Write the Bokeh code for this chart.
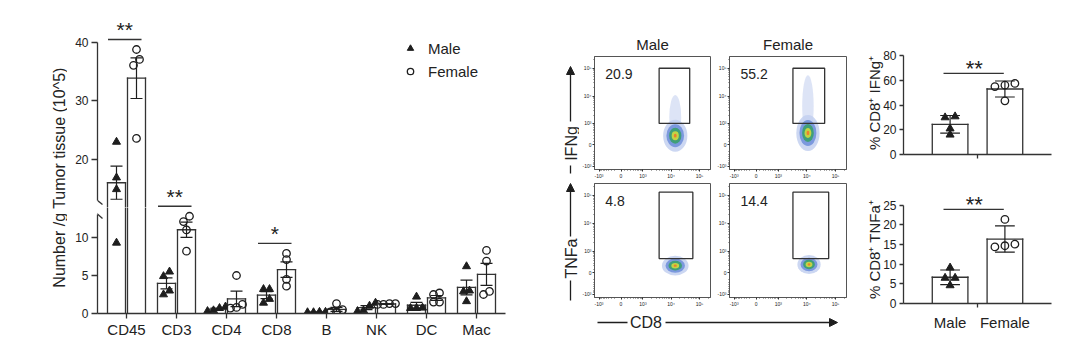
import numpy as np
from bokeh.plotting import figure
from bokeh.models import Range1d, FixedTicker, Legend, LegendItem, Arrow, NormalHead
from bokeh.layouts import row, column
from bokeh.embed import file_html
from bokeh.resources import INLINE
from bokeh.core.properties import value

FONT = "Liberation Sans"
INK = "#1e1e1e"
AX = "#333333"

# ---------------- data: immune cells per g tumour (x10^5) ----------------
cell_types = ["CD45", "CD3", "CD4", "CD8", "B", "NK", "DC", "Mac"]
male_counts = [
    [23.0, 16.9, 14.9, 9.3],
    [4.9, 5.5, 2.5, 3.0],
    [0.3, 0.9, 0.7, 0.4],
    [3.2, 3.2, 1.4, 1.9],
    [0.15, 0.2, 0.2, 0.15],
    [0.4, 1.0, 1.4, 0.3],
    [2.2, 0.7, 0.75, 0.7],
    [6.2, 3.0, 2.9, 1.6],
]
female_counts = [
    [38.8, 37.1, 36.1, 23.6],
    [12.1, 12.8, 11.0, 8.2],
    [5.0, 0.8, 0.7, 1.2],
    [7.9, 7.1, 4.5, 3.6],
    [0.2, 1.3, 0.2, 0.5],
    [1.2, 1.3, 1.3, 1.2],
    [2.5, 2.7, 1.5, 1.5],
    [8.3, 6.9, 2.5, 2.9],
]
count_sig = {"CD45": "**", "CD3": "**", "CD8": "*"}
count_ylabel = "Number /g Tumor tissue (10^5)"

# ---------------- data: % of CD8+ cells ----------------
sexes = ["Male", "Female"]
ifng_male = [30.0, 30.8, 21.0, 16.0]
ifng_female = [57.6, 56.2, 55.1, 43.5]
tnfa_male = [6.5, 6.5, 9.1, 4.6]
tnfa_female = [21.4, 14.4, 15.1, 14.7]

# ---------------- data: flow plots ----------------
ifng_gate_pct = [20.9, 55.2]
tnfa_gate_pct = [4.8, 14.4]
ifng_gate_cd8 = [[3.8e3, 4.5e4], [3.3e3, 4.2e4]]
ifng_gate_ifng = [1.0e3, 1.0e5]
tnfa_gate_cd8 = [[3.8e3, 5.8e4], [3.3e3, 5.8e4]]
tnfa_gate_tnfa = [5.0e2, 1.3e5]
ifng_cloud_cd8 = [1.4e4, 1.1e4]
ifng_cloud_ifng = [2.9e2, 4.0e2]
ifng_cloud_tail = [7.7e3, 4.0e4]
tnfa_cloud_cd8 = [1.4e4, 1.2e4]
tnfa_cloud_tnfa = [2.1e2, 2.5e2]
flow_tick_values = [-1e3, 0, 1e3, 1e4, 1e5]
flow_tick_labels = ["-10³", "0", "10³", "10⁴", "10⁵"]


# ---------------- helpers ----------------
def base_fig(w, h, xr, yr, bl, br, bt, bb, title=None):
    kw = dict(width=w, height=h, x_range=xr, y_range=yr, output_backend="svg",
              toolbar_location=None, min_border_left=bl, min_border_right=br,
              min_border_top=bt, min_border_bottom=bb)
    if title:
        kw["title"] = title
    p = figure(**kw)
    p.outline_line_color = None
    p.xgrid.visible = False
    p.ygrid.visible = False
    p.background_fill_color = "white"
    p.border_fill_color = "white"
    return p


def deco_fig(w, h, x0, x1, y_top, y_bot):
    p = base_fig(w, h, Range1d(x0, x1), Range1d(y_bot, y_top), 0, 0, 0, 0)
    p.xaxis.visible = False
    p.yaxis.visible = False
    return p


def style_axis(ax, size="12px", tick_out=5, standoff=3):
    ax.axis_line_color = AX
    ax.axis_line_width = 1.3
    ax.major_tick_line_color = AX
    ax.major_tick_line_width = 1.3
    ax.major_tick_in = 0
    ax.major_tick_out = tick_out
    ax.minor_tick_line_color = None
    ax.major_label_text_font = FONT
    ax.major_label_text_font_size = size
    ax.major_label_text_color = "#222222"
    ax.major_label_standoff = standoff
    ax.axis_label_text_font = FONT
    ax.axis_label_text_font_style = "normal"
    ax.axis_label_text_color = "#222222"


def swarm(vals, to_px, d_px, px_per_x, thr=6.0):
    vals = np.asarray(vals, dtype=float)
    order = np.argsort(vals)
    offs = np.zeros(len(vals))
    clusters, cur = [], [order[0]]
    for a, b in zip(order[:-1], order[1:]):
        if abs(to_px(vals[b]) - to_px(vals[a])) < thr:
            cur.append(b)
        else:
            clusters.append(cur)
            cur = [b]
    clusters.append(cur)
    for c in clusters:
        n = len(c)
        for k, i in enumerate(c):
            offs[i] = (k - (n - 1) / 2) * d_px / px_per_x
    return offs


def stext(p, x, y, t, size, **kw):
    p.text(x=x, y=y, text=t, text_font=value(FONT), text_font_size=size,
           text_color="#222222", **kw)


def draw_bars(p, xs, tops, width, show_top):
    xs = np.asarray(xs, dtype=float)
    tops = np.asarray(tops, dtype=float)
    show_top = np.asarray(show_top, dtype=bool)
    h = width / 2
    p.vbar(x=xs, top=tops, bottom=0, width=width, fill_color="white", line_color=None)
    seg = dict(line_color=AX, line_width=1.3, line_cap="square")
    p.segment(x0=xs - h, y0=np.zeros_like(tops), x1=xs - h, y1=tops, **seg)
    p.segment(x0=xs + h, y0=np.zeros_like(tops), x1=xs + h, y1=tops, **seg)
    p.segment(x0=xs[show_top] - h, y0=tops[show_top], x1=xs[show_top] + h,
              y1=tops[show_top], **seg)


# ================= left panel (broken axis: two stacked figures) =================
BREAK = 13.0
UP_START, UP_END = 11.79, 43.93
LO_END = 13.95
UP_PX, LO_PX = 5.85, 7.6
LX = Range1d(-0.58, 7.58)

up = base_fig(488, 200, LX, Range1d(UP_START, UP_END), 30, 50, 12, 0)
lo = base_fig(488, 133, LX, Range1d(0, LO_END), 30, 50, 0, 27)

up.xaxis.visible = False
style_axis(up.yaxis[0], "12px", 6, 3)
up.yaxis.ticker = FixedTicker(ticks=[20, 30, 40])
up.yaxis.bounds = (BREAK, 40)
style_axis(lo.yaxis[0], "12px", 6, 3)
lo.yaxis.ticker = FixedTicker(ticks=[0, 5, 10])
lo.yaxis.bounds = (0, BREAK)
style_axis(lo.xaxis[0], "15px", 5, 2)
idx = list(range(len(cell_types)))
lo.xaxis.ticker = FixedTicker(ticks=idx)
lo.xaxis.major_label_overrides = {i: c for i, c in enumerate(cell_types)}


def comb_px(v):
    return v * LO_PX if v <= BREAK else LO_END * LO_PX + (v - UP_START) * UP_PX


legend_r = {}
for sex, data, dx, marker in [("Male", male_counts, -0.2, "triangle"),
                              ("Female", female_counts, 0.2, "circle")]:
    means = np.array([np.mean(v) for v in data])
    sems = np.array([np.std(v, ddof=1) / np.sqrt(len(v)) for v in data])
    xs = np.array(idx, dtype=float) + dx
    tall = means > UP_START
    draw_bars(up, xs[tall], means[tall], 0.36, np.ones(int(tall.sum()), dtype=bool))
    draw_bars(lo, xs, means, 0.36, means < LO_END)
    pts = {up: ([], []), lo: ([], [])}
    for i, vals in enumerate(data):
        offs = swarm(vals, comb_px, 6.0, 50.0)
        for v, o in zip(vals, offs):
            tgt = up if v > BREAK else lo
            pts[tgt][0].append(xs[i] + o)
            pts[tgt][1].append(v)
    for p in (up, lo):
        if marker == "triangle":
            r = p.scatter(x=pts[p][0], y=pts[p][1], marker="triangle", size=8,
                          fill_color=INK, line_color=INK)
        else:
            r = p.scatter(x=pts[p][0], y=pts[p][1], marker="circle", size=7.5,
                          fill_color="white", fill_alpha=0, line_color=INK,
                          line_width=1.3)
        if p is up:
            legend_r[sex] = r
    for p, sel in ((up, means > BREAK), (lo, means <= BREAK)):
        x, m, s = xs[sel], means[sel], sems[sel]
        p.segment(x0=x, y0=m - s, x1=x, y1=m + s, line_color=INK, line_width=1.2)
        p.segment(x0=x - 0.12, y0=m + s, x1=x + 0.12, y1=m + s, line_color=INK, line_width=1.2)
        p.segment(x0=x - 0.12, y0=m - s, x1=x + 0.12, y1=m - s, line_color=INK, line_width=1.2)

for cat, stars in count_sig.items():
    i = cell_types.index(cat)
    top = max(max(male_counts[i]), max(female_counts[i]))
    h = comb_px(top) + 10
    if h <= LO_END * LO_PX:
        yv, p = h / LO_PX, lo
    else:
        yv, p = UP_START + (h - LO_END * LO_PX) / UP_PX, up
    p.segment(x0=[i - 0.37], y0=[yv], x1=[i + 0.3], y1=[yv], line_color=AX, line_width=1.3)
    stext(p, [i - 0.035], [yv], [stars], "21px", text_align="center",
          text_baseline="alphabetic", y_offset=-10)

# axis break marks
up.add_layout(Arrow(end=None, x_start=-0.68, y_start=BREAK + 0.68, x_end=-0.48,
                    y_end=BREAK - 0.69, line_color=AX, line_width=1.3))
lo.add_layout(Arrow(end=None, x_start=-0.68, y_start=BREAK + 0.68, x_end=-0.48,
                    y_end=BREAK - 0.5, line_color=AX, line_width=1.3))

leg = Legend(items=[LegendItem(label="Male", renderers=[legend_r["Male"]]),
                    LegendItem(label="Female", renderers=[legend_r["Female"]])],
             location=(305, 126), padding=0, margin=0, spacing=3,
             glyph_width=16, glyph_height=16, label_height=20, label_standoff=10,
             label_text_font=FONT, label_text_font_size="15px",
             label_text_color="#222222", border_line_color=None,
             background_fill_alpha=0)
up.add_layout(leg)

ylab = deco_fig(60, 333, 8, 68, 8, 341)
stext(ylab, [60], [178], [count_ylabel], "16px", angle=np.pi / 2,
      text_align="center", text_baseline="middle")

left = row(ylab, column(up, lo))

# ================= flow cytometry panels =================
FLOW_W = 350.0


def T(v):
    return np.arcsinh(np.asarray(v, dtype=float) / FLOW_W) / np.log(10)


FX = (-0.93, 3.14)
FY = (-0.89, 3.18)
minor_vals = ([-k * 100 for k in range(2, 10)] + [k * 100 for k in range(1, 10)]
              + [k * 1000 for k in range(2, 10)] + [k * 1e4 for k in range(2, 10)] + [2e5])
f_ticks = [round(float(t), 6) for t in T(flow_tick_values)]
f_minor = [round(float(t), 6) for t in T(minor_vals)]
f_over = {t: lab for t, lab in zip(f_ticks, flow_tick_labels)}

CLOUD_LAYERS = [
    (0.85, 1.00, "#c3d0f0", 0.85),
    (0.62, 0.72, "#5a7fd6", 0.7),
    (0.43, 0.50, "#35a067", 0.85),
    (0.25, 0.28, "#cfd93f", 0.9),
    (0.10, 0.12, "#ef7b2d", 0.95),
]


def flow_panel(bl, br, bt, bb, h, title, pct, gx, gy, cx, cy, tail, sx, sy):
    p = base_fig(bl + 118 + br, h, Range1d(*FX), Range1d(*FY), bl, br, bt, bb, title=title)
    p.outline_line_color = "#555555"
    p.outline_line_width = 1
    for ax in (p.xaxis[0], p.yaxis[0]):
        style_axis(ax, "5px", 2, 1)
        ax.axis_line_color = "#555555"
        ax.axis_line_width = 1
        ax.major_tick_line_width = 1
        ax.minor_tick_line_color = "#555555"
        ax.minor_tick_in = 0
        ax.minor_tick_out = 1
        ax.ticker = FixedTicker(ticks=f_ticks, minor_ticks=f_minor)
        ax.major_label_overrides = f_over
    if title:
        p.title.align = "center"
        p.title.text_font = FONT
        p.title.text_font_size = "15px"
        p.title.text_font_style = "normal"
        p.title.text_color = "#222222"
        p.title.standoff = 8
    X, Y = float(T(cx)), float(T(cy))
    if tail is not None:
        Yt = float(T(tail))
        p.ellipse(x=[X], y=[(Y + Yt) / 2], width=0.42 * sx, height=(Yt - Y) + 0.3,
                  fill_color="#9fb3e6", fill_alpha=0.35, line_color=None)
    for w, hh, c, a in CLOUD_LAYERS:
        p.ellipse(x=[X], y=[Y], width=w * sx, height=hh * sy, fill_color=c,
                  fill_alpha=a, line_color=None)
    p.quad(left=[float(T(gx[0]))], right=[float(T(gx[1]))], bottom=[float(T(gy[0]))],
           top=[float(T(gy[1]))], fill_color=None, line_color="#333333", line_width=1.3)
    stext(p, [FX[0] + 0.38], [FY[1] - 0.64], [f"{pct}"], "14px",
          text_align="left", text_baseline="middle")
    return p


f_mt = flow_panel(13, 4, 49, 11, 174, "Male", ifng_gate_pct[0], ifng_gate_cd8[0], ifng_gate_ifng,
                  ifng_cloud_cd8[0], ifng_cloud_ifng[0], ifng_cloud_tail[0], 1.0, 1.15)
f_ft = flow_panel(14, 5, 49, 11, 174, "Female", ifng_gate_pct[1], ifng_gate_cd8[1], ifng_gate_ifng,
                  ifng_cloud_cd8[1], ifng_cloud_ifng[1], ifng_cloud_tail[1], 0.95, 1.3)
f_mb = flow_panel(13, 4, 2, 14, 130, None, tnfa_gate_pct[0], tnfa_gate_cd8[0], tnfa_gate_tnfa,
                  tnfa_cloud_cd8[0], tnfa_cloud_tnfa[0], None, 1.1, 0.7)
f_fb = flow_panel(14, 5, 2, 14, 130, None, tnfa_gate_pct[1], tnfa_gate_cd8[1], tnfa_gate_tnfa,
                  tnfa_cloud_cd8[1], tnfa_cloud_tnfa[1], None, 0.95, 0.68)

vdeco = deco_fig(24, 304, 556, 580, 8, 312)
head = dict(size=8, fill_color=INK, line_color=INK)
vdeco.add_layout(Arrow(end=NormalHead(**head), x_start=571, y_start=122, x_end=571, y_end=67,
                       line_color=INK, line_width=1.3))
vdeco.segment(x0=[571], y0=[166], x1=[571], y1=[174], line_color=INK, line_width=1.3)
vdeco.add_layout(Arrow(end=NormalHead(**head), x_start=571, y_start=237, x_end=571, y_end=184,
                       line_color=INK, line_width=1.3))
vdeco.segment(x0=[571], y0=[281], x1=[571], y1=[301], line_color=INK, line_width=1.3)
stext(vdeco, [571.5, 571.5], [144, 259], ["IFNg", "TNFa"], "16px", angle=np.pi / 2,
      text_align="center", text_baseline="middle")

hdeco = deco_fig(296, 29, 556, 852, 312, 341)
hdeco.segment(x0=[598], y0=[323], x1=[628], y1=[323], line_color=INK, line_width=1.3)
hdeco.add_layout(Arrow(end=NormalHead(**head), x_start=666, y_start=323, x_end=838, y_end=323,
                       line_color=INK, line_width=1.3))
stext(hdeco, [646.5], [323], ["CD8"], "16px", text_align="center", text_baseline="middle")

flow = column(row(vdeco, column(row(f_mt, f_ft), row(f_mb, f_fb))), hdeco)

# ================= right bar charts =================
RX = Range1d(-0.85, 1.85)


def pct_chart(h, bt, bb, yend, bound, step, male, female, ylabel, show_labels):
    p = base_fig(212, h, RX, Range1d(0, yend), 52, 12, bt, bb)
    frame_h = h - bt - bb
    pxper = frame_h / yend
    style_axis(p.yaxis[0], "12px", 4, 3)
    p.yaxis.ticker = FixedTicker(ticks=list(range(0, bound + 1, step)))
    p.yaxis.bounds = (0, bound)
    p.yaxis.axis_label = ylabel
    p.yaxis.axis_label_text_font_size = "15px"
    p.yaxis.axis_label_standoff = -3
    style_axis(p.xaxis[0], "15px", 0, 6)
    p.xaxis.ticker = FixedTicker(ticks=[0, 1], minor_ticks=[0.5])
    p.xaxis.major_tick_line_color = None
    p.xaxis.minor_tick_line_color = AX
    p.xaxis.minor_tick_line_width = 1.3
    p.xaxis.minor_tick_in = 0
    p.xaxis.minor_tick_out = 4
    p.xaxis.major_label_overrides = ({0: sexes[0], 1: sexes[1]} if show_labels else {0: "", 1: ""})
    groups = [male, female]
    means = np.array([np.mean(g) for g in groups])
    sds = np.array([np.std(g, ddof=1) for g in groups])
    xs = np.arange(len(groups), dtype=float)
    draw_bars(p, xs, means, 0.65, [True, True])
    for k, (g, marker) in enumerate(zip(groups, ["triangle", "circle"])):
        offs = swarm(g, lambda v: v * pxper, 10.0, 54.8)
        if marker == "triangle":
            p.scatter(x=xs[k] + offs, y=g, marker="triangle", size=8, fill_color=INK, line_color=INK)
        else:
            p.scatter(x=xs[k] + offs, y=g, marker="circle", size=7.5, fill_color="white",
                      fill_alpha=0, line_color=INK, line_width=1.3)
    p.segment(x0=xs, y0=means - sds, x1=xs, y1=means + sds, line_color=INK, line_width=1.2)
    p.segment(x0=xs - 0.18, y0=means + sds, x1=xs + 0.18, y1=means + sds, line_color=INK, line_width=1.2)
    p.segment(x0=xs - 0.18, y0=means - sds, x1=xs + 0.18, y1=means - sds, line_color=INK, line_width=1.2)
    top = max(max(male), max(female)) + 10 / pxper
    p.segment(x0=[-0.12], y0=[top], x1=[0.98], y1=[top], line_color=AX, line_width=1.3)
    stext(p, [0.44], [top], ["**"], "22px", text_align="center", text_baseline="alphabetic", y_offset=-5)
    return p


ifng_chart = pct_chart(162, 44, 15, 83.5, 80, 20, ifng_male, ifng_female, "% CD8⁺ IFNg⁺", False)
tnfa_chart = pct_chart(171, 26, 37, 27.48, 25, 5, tnfa_male, tnfa_female, "% CD8⁺ TNFa⁺", True)
right = column(ifng_chart, tnfa_chart)

page = row(left, flow, right)
page.margin = (7, 0, 0, 7)
open("out.html", "w").write(file_html(page, INLINE))
